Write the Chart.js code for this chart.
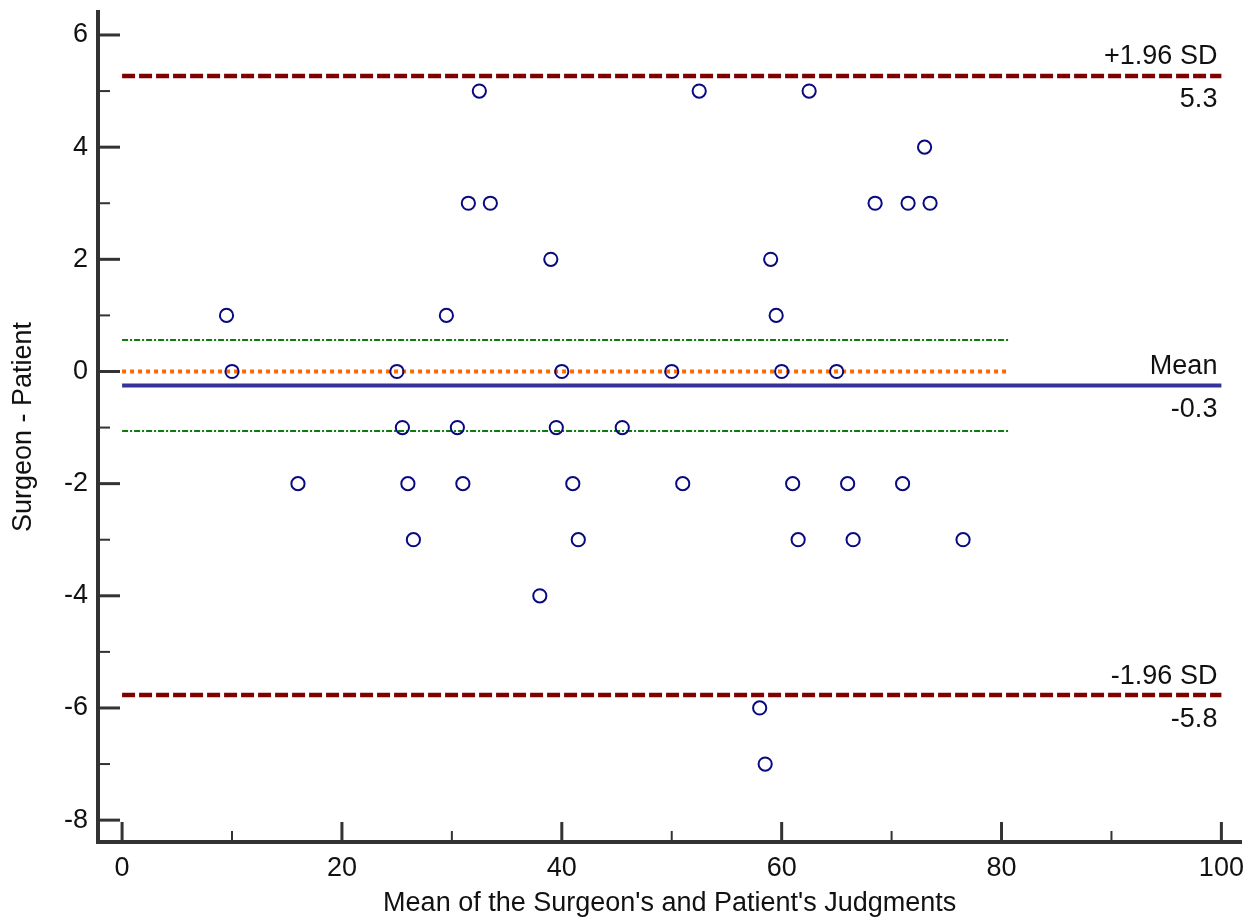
<!DOCTYPE html>
<html>
<head>
<meta charset="utf-8">
<script src="https://cdn.jsdelivr.net/npm/chart.js@4.4.1/dist/chart.umd.min.js"></script>
<style>
    html, body { margin: 0; padding: 0; background: #fff; }
    #wrap { width: 1250px; height: 922px; }
</style>
</head>
<body>
<div id="wrap"><canvas id="baChart" width="1250" height="922"></canvas></div>
<script>
// mean of the two judgments (x) and their difference (y)
const meanValues = [32.5, 52.5, 62.5, 73, 31.5, 33.5, 68.5, 71.5, 73.5, 39, 59, 9.5, 29.5, 59.5,
    10, 25, 40, 50, 60, 65, 25.5, 30.5, 39.5, 45.5, 16, 26, 31, 41, 51, 61, 66, 71,
    26.5, 41.5, 61.5, 66.5, 76.5, 38, 58, 58.5];
const diffValues = [5, 5, 5, 4, 3, 3, 3, 3, 3, 2, 2, 1, 1, 1,
    0, 0, 0, 0, 0, 0, -1, -1, -1, -1, -2, -2, -2, -2, -2, -2, -2, -2,
    -3, -3, -3, -3, -3, -4, -6, -7];

const xTickValues = [0, 10, 20, 30, 40, 50, 60, 70, 80, 90, 100];
const yTickValues = [-8, -7, -6, -5, -4, -3, -2, -1, 0, 1, 2, 3, 4, 5, 6];

const meanDiff = -0.25;
const upperLimit = 5.27;
const lowerLimit = -5.77;
const ciUpper = 0.56;
const ciLower = -1.06;
const lineStartX = 0;
const lineEndX = 100;
const ciEndX = 80.7;

// text shown at the right end of the reference lines
const refLabels = [
    { y: upperLimit, above: "+1.96 SD", below: "5.3" },
    { y: meanDiff, above: "Mean", below: "-0.3" },
    { y: lowerLimit, above: "-1.96 SD", below: "-5.8" }
];

const FONT = "'Liberation Sans', Arial, sans-serif";
const FONT_SIZE = 27;

const points = meanValues.map((m, i) => ({ x: m, y: diffValues[i] }));

function hLine(y, x0, x1) {
    return [{ x: x0, y: y }, { x: x1, y: y }];
}

function noOverflow(scale) {
    scale.paddingLeft = 0;
    scale.paddingRight = 0;
    scale.paddingTop = 0;
    scale.paddingBottom = 0;
}

// tick marks pointing into the plot, like the original
const innerTicks = {
    id: "innerTicks",
    afterDraw(chart) {
        const { ctx, chartArea, scales: { x, y } } = chart;
        ctx.save();
        ctx.strokeStyle = "#333";
        x.ticks.forEach(t => {
            const major = t.value % 20 === 0;
            const px = x.getPixelForValue(t.value);
            ctx.lineWidth = major ? 3 : 2;
            ctx.beginPath();
            ctx.moveTo(px, chartArea.bottom - 2);
            ctx.lineTo(px, chartArea.bottom - 2 - (major ? 18 : 9));
            ctx.stroke();
        });
        y.ticks.forEach(t => {
            const major = t.value % 2 === 0;
            const py = y.getPixelForValue(t.value);
            ctx.lineWidth = major ? 3 : 2;
            ctx.beginPath();
            ctx.moveTo(chartArea.left + 2, py);
            ctx.lineTo(chartArea.left + 2 + (major ? 20 : 10), py);
            ctx.stroke();
        });
        ctx.restore();
    }
};

const lineText = {
    id: "lineText",
    afterDatasetsDraw(chart) {
        const { ctx, scales: { x, y } } = chart;
        const right = x.getPixelForValue(lineEndX) - 4;
        ctx.save();
        ctx.font = FONT_SIZE + "px " + FONT;
        ctx.fillStyle = "#111";
        ctx.textAlign = "right";
        ctx.textBaseline = "middle";
        refLabels.forEach(l => {
            const py = y.getPixelForValue(l.y);
            ctx.fillText(l.above, right, py - 19);
            ctx.fillText(l.below, right, py + 24);
        });
        ctx.restore();
    }
};

const ctx = document.getElementById("baChart").getContext("2d");
new Chart(ctx, {
    type: "scatter",
    data: {
        datasets: [
            {
                label: "Differences",
                data: points,
                pointStyle: "circle",
                pointRadius: 6.6,
                pointBorderWidth: 2,
                borderColor: "#0a0a80",
                backgroundColor: "rgba(0,0,0,0)",
                order: 0
            },
            {
                label: "+1.96 SD",
                type: "line",
                data: hLine(upperLimit, lineStartX, lineEndX),
                borderColor: "#800000",
                borderWidth: 4.5,
                borderDash: [13, 4],
                pointRadius: 0,
                order: 2
            },
            {
                label: "-1.96 SD",
                type: "line",
                data: hLine(lowerLimit, lineStartX, lineEndX),
                borderColor: "#800000",
                borderWidth: 4.5,
                borderDash: [13, 4],
                pointRadius: 0,
                order: 2
            },
            {
                label: "Mean",
                type: "line",
                data: hLine(meanDiff, lineStartX, lineEndX),
                borderColor: "#333399",
                borderWidth: 4,
                pointRadius: 0,
                order: 2
            },
            {
                label: "Zero",
                type: "line",
                data: hLine(0, lineStartX, ciEndX),
                borderColor: "#ff6a00",
                borderWidth: 4,
                borderDash: [4, 4],
                pointRadius: 0,
                order: 2
            },
            {
                label: "CI upper",
                type: "line",
                data: hLine(ciUpper, lineStartX, ciEndX),
                borderColor: "#0d7a0d",
                borderWidth: 2,
                borderDash: [6, 2, 2, 2],
                pointRadius: 0,
                order: 2
            },
            {
                label: "CI lower",
                type: "line",
                data: hLine(ciLower, lineStartX, ciEndX),
                borderColor: "#0d7a0d",
                borderWidth: 2,
                borderDash: [6, 2, 2, 2],
                pointRadius: 0,
                order: 2
            }
        ]
    },
    options: {
        responsive: false,
        animation: false,
        devicePixelRatio: 1,
        layout: { padding: { top: 12, right: 2, left: 0, bottom: 0 } },
        plugins: {
            legend: { display: false },
            tooltip: { enabled: false }
        },
        scales: {
            x: {
                type: "linear",
                min: -2.19,
                max: 101.82,
                afterBuildTicks: scale => { scale.ticks = xTickValues.map(v => ({ value: v })); },
                afterFit: scale => { scale.height = 80; noOverflow(scale); },
                ticks: {
                    autoSkip: false,
                    maxRotation: 0,
                    padding: 10,
                    color: "#111",
                    font: { family: FONT, size: FONT_SIZE },
                    callback: v => (v % 20 === 0 ? String(v) : "")
                },
                grid: { display: false, drawTicks: false },
                border: { display: true, color: "#333", width: 4 },
                title: {
                    display: true,
                    text: "Mean of the Surgeon's and Patient's Judgments",
                    color: "#111",
                    font: { family: FONT, size: FONT_SIZE },
                    padding: { top: 4, bottom: 2 }
                }
            },
            y: {
                type: "linear",
                min: -8.39,
                max: 6.41,
                afterBuildTicks: scale => { scale.ticks = yTickValues.map(v => ({ value: v })); },
                afterFit: scale => { scale.width = 98; noOverflow(scale); },
                ticks: {
                    autoSkip: false,
                    padding: 10,
                    color: "#111",
                    font: { family: FONT, size: FONT_SIZE },
                    callback: v => (v % 2 === 0 ? String(v) : "")
                },
                grid: { display: false, drawTicks: false },
                border: { display: true, color: "#333", width: 4 },
                title: {
                    display: true,
                    text: "Surgeon - Patient",
                    color: "#111",
                    font: { family: FONT, size: FONT_SIZE },
                    padding: { top: 7, bottom: 0 }
                }
            }
        }
    },
    plugins: [innerTicks, lineText]
});
</script>
</body>
</html>
